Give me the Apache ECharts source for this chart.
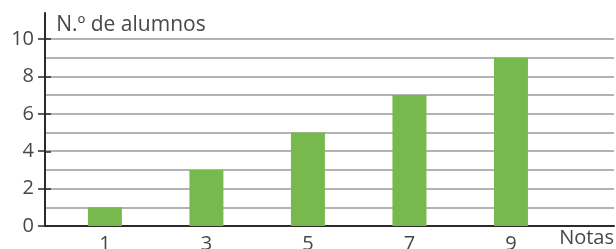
<!DOCTYPE html>
<html>
<head>
<meta charset="utf-8">
<script src="https://cdn.jsdelivr.net/npm/echarts@6/dist/echarts.min.js"></script>
<style>
  html, body { margin: 0; padding: 0; background: #fff; }
  #chart { width: 616px; height: 249px; }
</style>
</head>
<body>
<div id="chart"></div>
<script>
// grades (x) and number of students (y)
const notas = [1, 3, 5, 7, 9]
const alumnos = [1, 3, 5, 7, 9]
const yLabels = [0, 2, 4, 6, 8, 10]

const textColor = '#474747'
const font = 'Open Sans'
const axisColor = '#2b2b2b'

const chart = echarts.init(document.getElementById('chart'))

const option = {
  animation: false,
  grid: [
    { left: 45, right: 2, top: 39, bottom: 23, outerBoundsMode: 'none' },
    // second grid only draws the taller y axis line
    { left: 45, right: 2, top: 13, bottom: 23, outerBoundsMode: 'none' }
  ],
  xAxis: [
    {
      type: 'value',
      gridIndex: 0,
      min: -0.18,
      max: 11.03,
      axisLine: { show: true, lineStyle: { color: axisColor, width: 2 } },
      axisTick: { show: false },
      splitLine: { show: false },
      axisLabel: {
        customValues: notas,
        color: textColor,
        fontFamily: font,
        fontSize: 20,
        margin: 8
      },
      name: 'Notas',
      nameLocation: 'end',
      nameGap: 0,
      nameTextStyle: {
        align: 'right',
        verticalAlign: 'top',
        color: textColor,
        fontFamily: font,
        fontSize: 20,
        padding: [2, 0, 0, 0]
      }
    },
    {
      type: 'value',
      gridIndex: 1,
      min: 0,
      max: 1,
      show: false
    }
  ],
  yAxis: [
    {
      type: 'value',
      gridIndex: 0,
      min: 0,
      max: 10,
      interval: 1,
      axisLine: { show: false },
      axisTick: { show: false },
      axisLabel: {
        formatter: v => (yLabels.includes(v) ? String(v) : ''),
        color: textColor,
        fontFamily: font,
        fontSize: 20,
        margin: 11
      },
      splitLine: { show: true, lineStyle: { color: '#9a9a9a', width: 1.5 } },
      name: 'N.º de alumnos',
      nameLocation: 'end',
      nameGap: 3,
      nameTextStyle: {
        align: 'left',
        color: textColor,
        fontFamily: font,
        fontSize: 21,
        padding: [0, 0, 0, 2]
      }
    },
    {
      type: 'value',
      gridIndex: 1,
      min: 0,
      max: 11.4,
      axisLine: { show: true, lineStyle: { color: axisColor, width: 2 } },
      axisTick: {
        show: true,
        inside: true,
        customValues: yLabels,
        length: 6,
        lineStyle: { color: axisColor, width: 1.5 }
      },
      axisLabel: { show: false },
      splitLine: { show: false }
    },
    {
      // outside tick marks
      type: 'value',
      gridIndex: 0,
      min: 0,
      max: 10,
      position: 'left',
      axisLine: { show: false },
      axisTick: {
        show: true,
        customValues: yLabels,
        length: 7,
        lineStyle: { color: axisColor, width: 1.5 }
      },
      axisLabel: { show: false },
      splitLine: { show: false }
    }
  ],
  series: [
    {
      type: 'bar',
      xAxisIndex: 0,
      yAxisIndex: 0,
      barWidth: 34,
      itemStyle: { color: '#78b94e' },
      data: notas.map((n, i) => [n, alumnos[i]])
    }
  ]
}

chart.setOption(option)
</script>
</body>
</html>
